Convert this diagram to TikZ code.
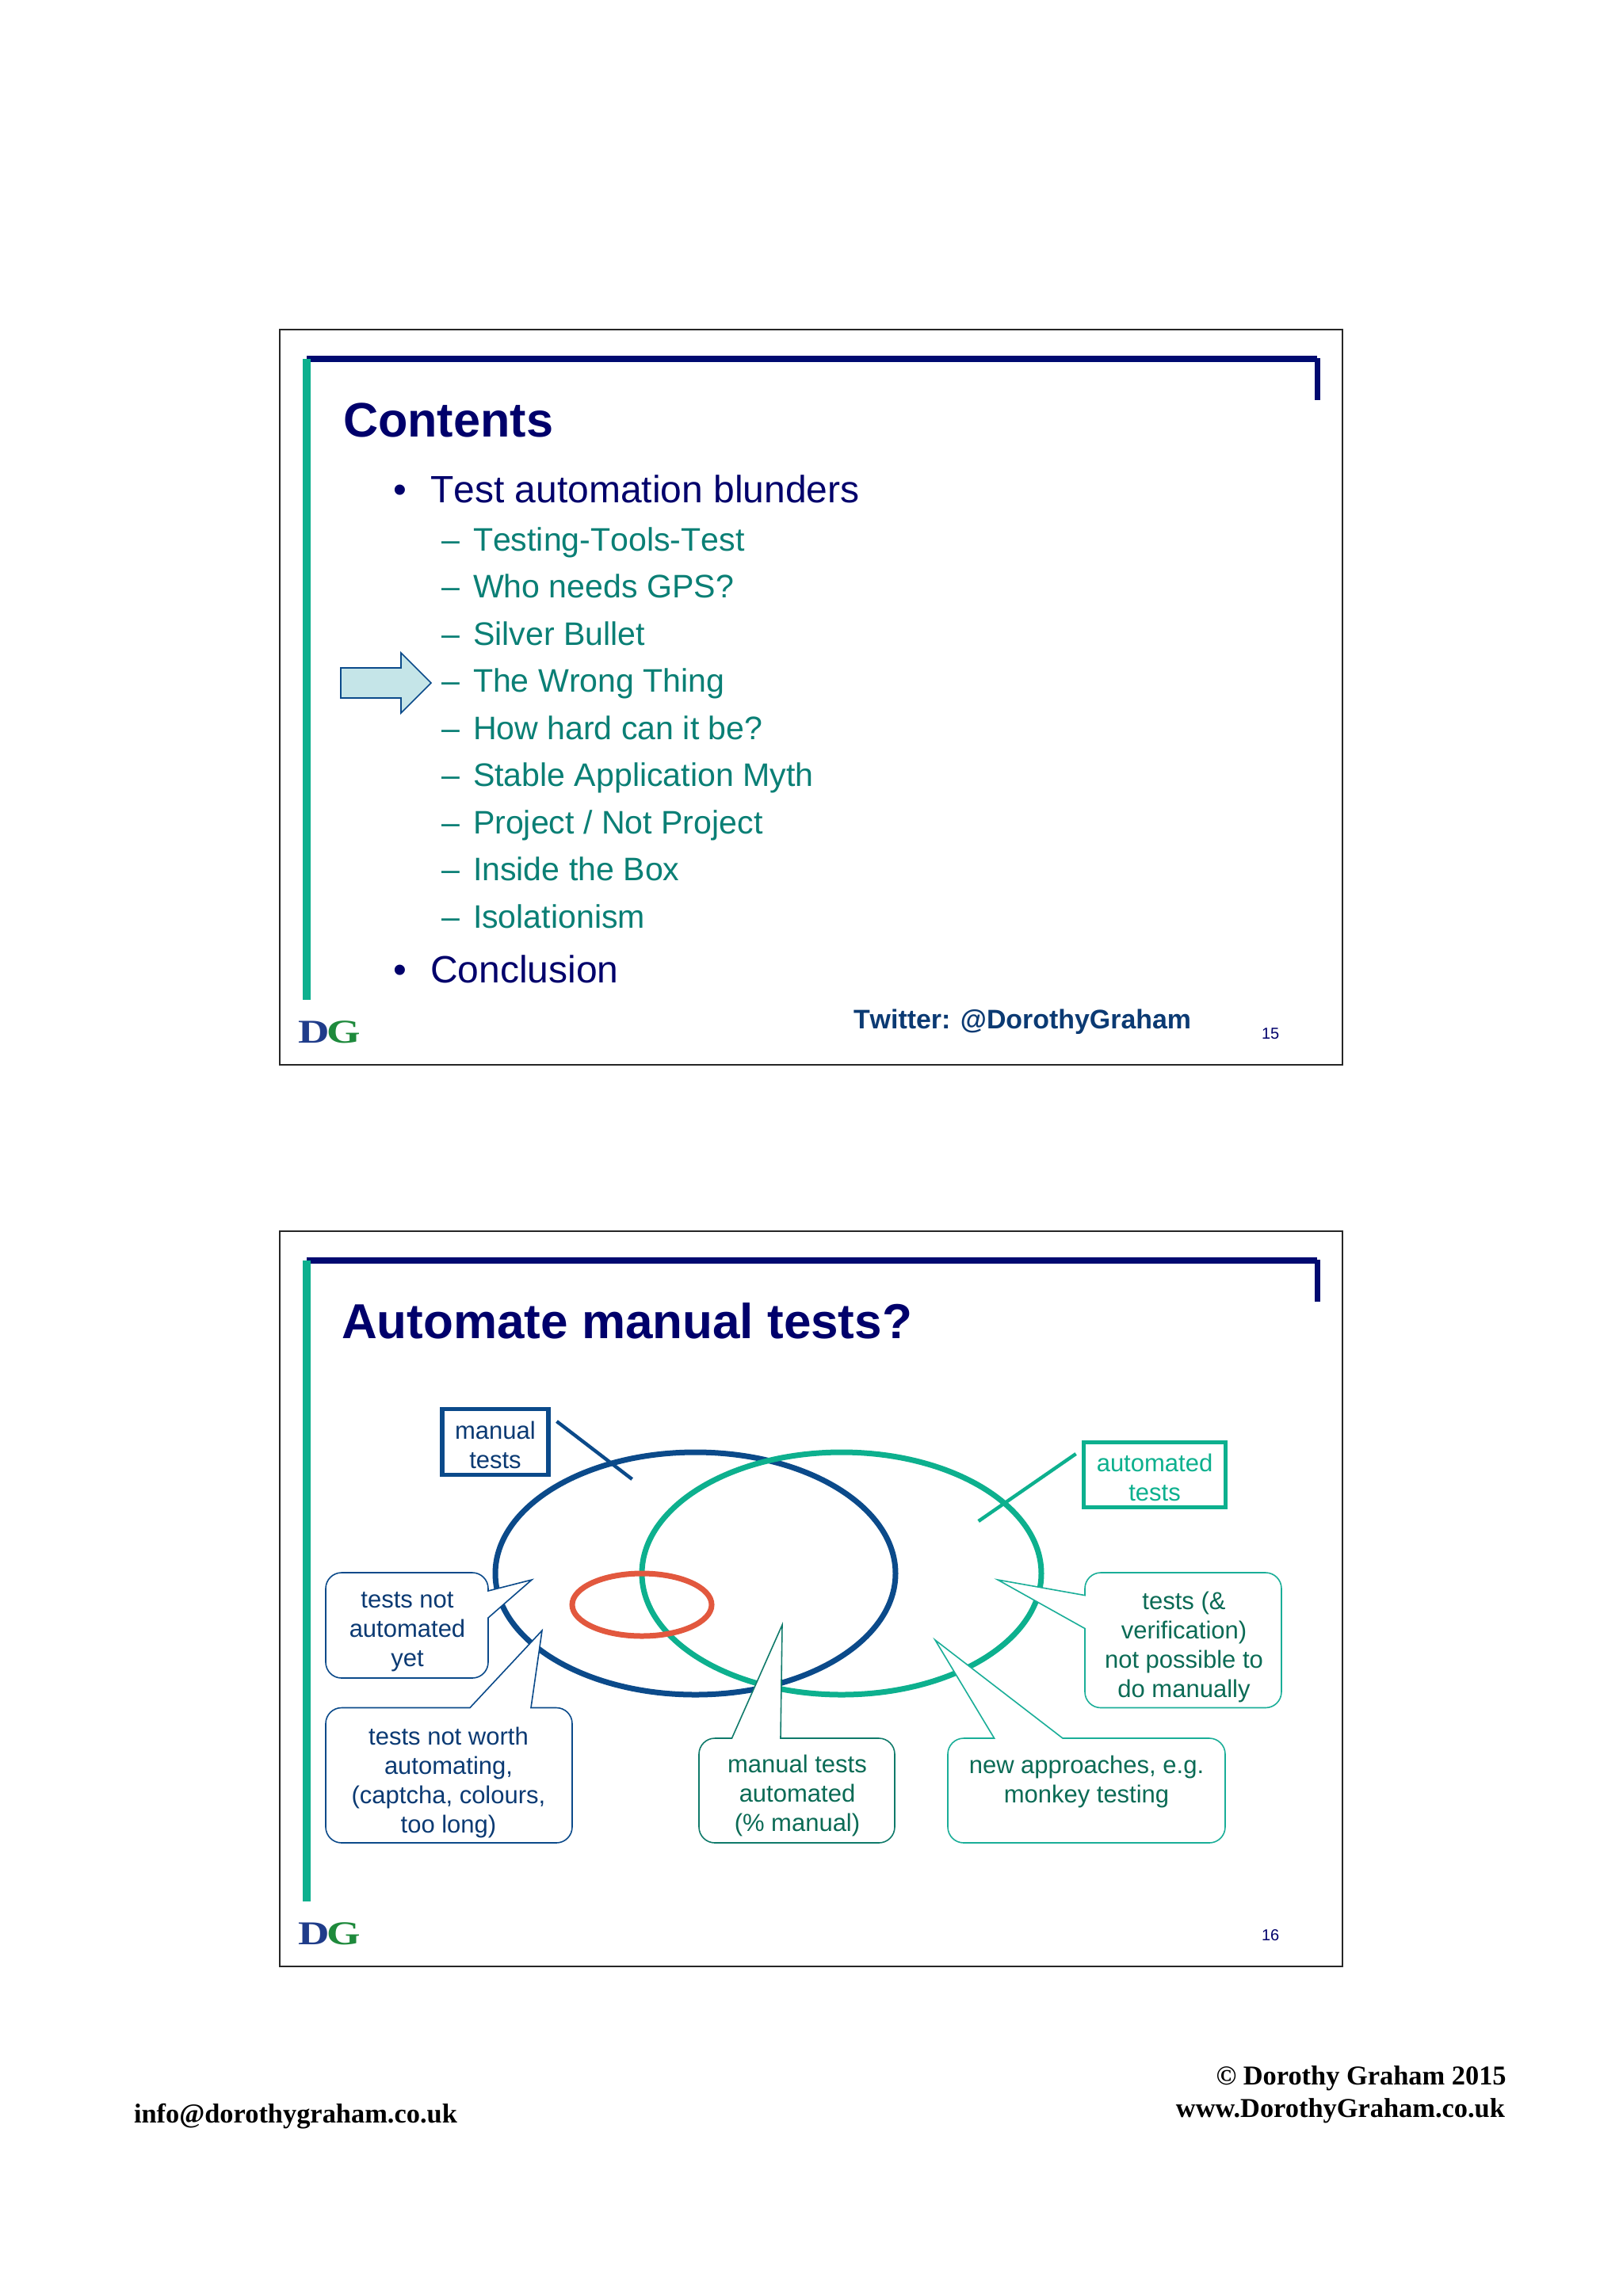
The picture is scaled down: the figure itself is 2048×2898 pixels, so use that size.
\documentclass[tikz,border=0pt]{standalone}
\usepackage{fontspec}
\setmainfont[Kerning=Off]{Liberation Sans}
\newfontfamily\timesf{Liberation Serif}
\definecolor{navybar}{HTML}{000A70}
\definecolor{titleblue}{HTML}{00006B}
\definecolor{subteal}{HTML}{0A7F75}
\definecolor{bargreen}{HTML}{0DB08E}
\definecolor{twblue}{HTML}{0B3A73}
\definecolor{venblue}{HTML}{0B4A8A}
\definecolor{venred}{HTML}{E2583E}
\definecolor{darkgreen}{HTML}{0B6B55}
\definecolor{tealline}{HTML}{1AAE98}
\definecolor{midgreen}{HTML}{0F7A6A}
\definecolor{arrowfill}{HTML}{C5E5E8}
\definecolor{dgblue}{HTML}{1F3C8A}
\definecolor{dggreen}{HTML}{1E8A3C}
\tikzset{
  x=0.5pt,y=-0.5pt,
  txt/.style={inner sep=0pt,outer sep=0pt,anchor=base west},
  slidetitle/.style={txt,font=\fontsize{30.6}{36}\bfseries\selectfont,text=titleblue},
  lvlone/.style={txt,font=\fontsize{24}{29}\selectfont,text=titleblue},
  lvltwo/.style={txt,font=\fontsize{20.55}{25}\selectfont,text=subteal},
  lab/.style={inner sep=0pt,outer sep=0pt,anchor=base,align=center,font=\fontsize{15.5}{18.5}\selectfont},
  calloutblue/.style={draw=venblue,line width=0.8pt,fill=white,line join=miter},
  calloutdark/.style={draw=midgreen,line width=0.8pt,fill=white,line join=miter},
  callouttl/.style={draw=tealline,line width=0.8pt,fill=white,line join=miter},
  footer/.style={inner sep=0pt,outer sep=0pt,font=\timesf\fontsize{17.2}{20}\bfseries\selectfont},
  venn/.style={line width=3.5pt},
  leader/.style={line width=2.2pt},
  box/.style={draw,line width=2.7pt,inner sep=0pt,outer sep=0pt,fill=white}
}
\newcommand{\slidechrome}[2]{%
  \begin{scope}[yshift=#1]
    \draw[line width=1pt,draw=black!85] (353,416) rectangle (1694,1343.5);
    \fill[navybar] (387,449) rectangle (1662,456.5);
    \fill[navybar] (1658.7,452) rectangle (1666,505);
    \fill[bargreen] (382,453) rectangle (391.5,1262);
    \node[txt] (dg#2) at (376,1316) {\scalebox{1.3}[1]{\timesf\fontsize{21}{24}\bfseries\selectfont\textcolor{dgblue}{D}\kern-1pt\textcolor{dggreen}{G}}};
  \end{scope}}
\begin{document}
\begin{tikzpicture}
\useasboundingbox (0,0) rectangle (2048,2898);
\fill[white] (0,0) rectangle (2048,2898);
\slidechrome{0pt}{a}
\slidechrome{-569pt}{b}
% slide 1
\node[slidetitle] (t1) at (433,551) {Contents};
\node[lvlone] (b1) at (496,634) {•};
\node[lvlone] (l1) at (543,634) {Test automation blunders};
\foreach \i/\y/\t in {1/695/{Testing-Tools-Test},2/754.5/{Who needs GPS?},3/814/{Silver Bullet},4/873.5/{The Wrong Thing},5/933/{How hard can it be?},6/992.5/{Stable Application Myth},7/1052/{Project / Not Project},8/1111.5/{Inside the Box},9/1171/{Isolationism}}{
  \node[lvltwo] (d\i) at (557,\y) {–};
  \node[lvltwo] (s\i) at (597,\y) {\t};
}
\node[lvlone] (b2) at (496,1240) {•};
\node[lvlone] (l2) at (543,1240) {Conclusion};
\draw[draw=venblue,line width=0.8pt,fill=arrowfill,line join=miter] (430,843) -- (506,843) -- (506,824) -- (544,862) -- (506,900) -- (506,881) -- (430,881) -- cycle;
\node[txt,font=\fontsize{16.95}{20}\bfseries\selectfont,text=twblue] (tw) at (1077,1298) {Twitter: @DorothyGraham};
\node[txt,font=\fontsize{10}{12}\selectfont,text=titleblue] (n15) at (1592,1311) {15};
% slide 2
\node[slidetitle,font=\fontsize{31}{36}\bfseries\selectfont] (t2) at (431,1689) {Automate manual tests?};
\draw[venn,venblue] (877.5,1986) ellipse [x radius=252.5,y radius=153];
\draw[venn,bargreen] (1062,1986) ellipse [x radius=252,y radius=153];
\draw[venn,venred] (810,2025.5) ellipse [x radius=88,y radius=39.5];
% boxes
\node[box,draw=venblue,minimum width=67pt,minimum height=41.25pt] (mbox) at (625,1820) {};
\node[lab,text=twblue] (mlab) at (625,1853.5) {manual\\tests};
\node[box,draw=bargreen,minimum width=89.5pt,minimum height=41pt] (abox) at (1457,1861.5) {};
\node[lab,text=bargreen] (alab) at (1457,1894) {automated\\tests};
\coordinate (ml1) at (702.5,1794);
\coordinate (ml2) at (797.6,1867);
\coordinate (al1) at (1357.6,1835);
\coordinate (al2) at (1234.7,1920);
\draw[leader,venblue] (ml1) -- (ml2);
\draw[leader,bargreen] (al1) -- (al2);
% callouts
\draw[calloutblue] (616,2042) [rounded corners=10pt] -- (616,2118) -- (411,2118) -- (411,1985) -- (616,1985) [sharp corners] -- (616,2008) -- (671,1994) -- cycle;
\node[lab,text=twblue] (c1) at (514,2103) {tests not\\automated\\yet};
\draw[calloutblue] (670,2155.5) [rounded corners=10pt] -- (722,2155.5) -- (722,2326) -- (411,2326) -- (411,2155.5) [sharp corners] -- (593,2155.5) -- (684,2058) -- cycle;
\node[lab,text=twblue] (c2) at (566,2313) {tests not worth\\automating,\\(captcha, colours,\\too long)};
\draw[calloutdark] (985,2194) [rounded corners=10pt] -- (1129,2194) -- (1129,2326) -- (882,2326) -- (882,2194) [sharp corners] -- (923.5,2194) -- (987,2051) -- cycle;
\node[lab,text=darkgreen] (c3) at (1006,2311) {manual tests\\automated\\(\% manual)};
\draw[callouttl] (1341,2194) [rounded corners=10pt] -- (1546,2194) -- (1546,2326) -- (1196,2326) -- (1196,2194) [sharp corners] -- (1254.6,2194) -- (1180,2070) -- cycle;
\node[lab,text=darkgreen] (c4) at (1371,2275) {new approaches, e.g.\\monkey testing};
\draw[callouttl] (1369,2055.5) [rounded corners=10pt] -- (1369,2155.5) -- (1617,2155.5) -- (1617,1985) -- (1369,1985) [sharp corners] -- (1369,2013.6) -- (1259,1994) -- cycle;
\node[lab,text=darkgreen] (c5) at (1494,2142.5) {tests (\&\\verification)\\not possible to\\do manually};
\node[txt,font=\fontsize{10}{12}\selectfont,text=titleblue] (n16) at (1592,2449) {16};
% footer
\node[footer,anchor=base east] (f1) at (1900.7,2631.7) {© Dorothy Graham 2015};
\node[footer,anchor=base east] (f2) at (1899,2672) {www.DorothyGraham.co.uk};
\node[footer,anchor=base west] (f3) at (169,2679) {info@dorothygraham.co.uk};
\end{tikzpicture}
\end{document}
